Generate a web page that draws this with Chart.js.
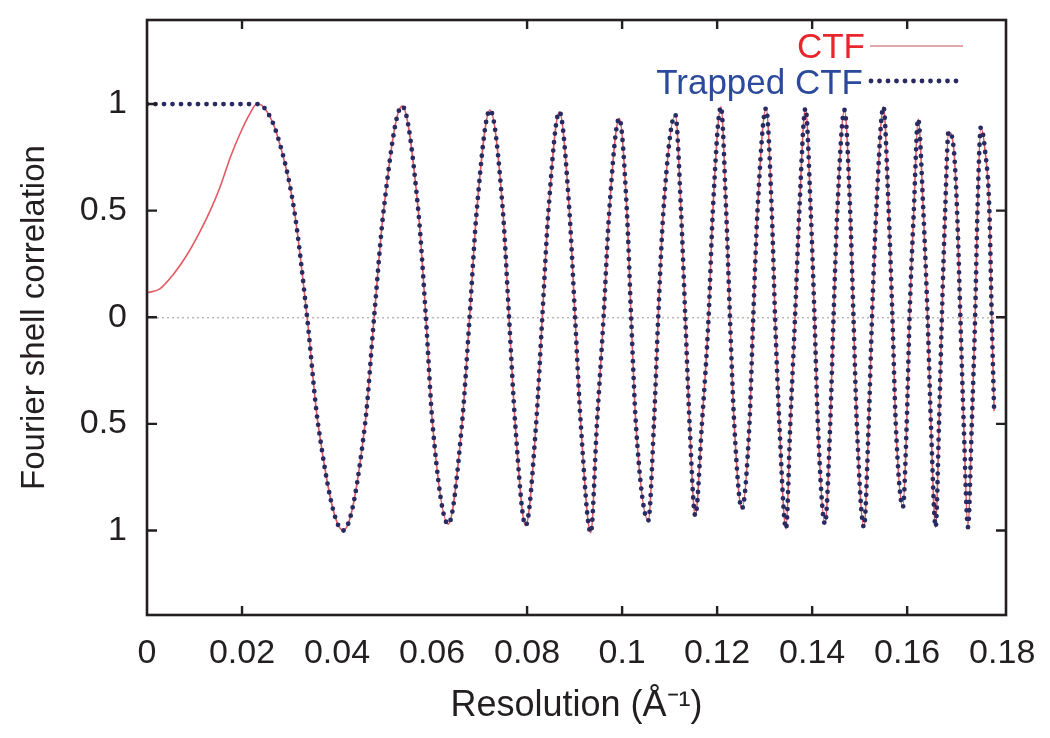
<!DOCTYPE html>
<html>
<head>
<meta charset="utf-8">
<script src="https://cdn.jsdelivr.net/npm/chart.js@4"></script>
<style>
  body { margin: 0; background: #fff; }
</style>
</head>
<body>
<canvas id="myChartctf" width="1050" height="738"></canvas>
<script>
// values
const resolution = [
  0.0000, 0.0027, 0.0055, 0.0084, 0.0112, 0.0133, 0.0154, 0.0175, 0.0196, 0.0217,
  0.0231, 0.0245, 0.0273, 0.0310, 0.0337, 0.0360, 0.0413, 0.0459, 0.0478, 0.0498,
  0.0537, 0.0571, 0.0587, 0.0601, 0.0634, 0.0663, 0.0679, 0.0694, 0.0722, 0.0749,
  0.0762, 0.0775, 0.0797, 0.0819, 0.0832, 0.0845, 0.0868, 0.0889, 0.0901, 0.0913,
  0.0934, 0.0947, 0.0961, 0.0973, 0.0994, 0.1010, 0.1019, 0.1029, 0.1055, 0.1067,
  0.1076, 0.1087, 0.1112, 0.1124, 0.1133, 0.1142, 0.1154, 0.1168, 0.1182, 0.1191,
  0.1208, 0.1219, 0.1227, 0.1236, 0.1252, 0.1268, 0.1276, 0.1285, 0.1303, 0.1315,
  0.1322, 0.1331, 0.1345, 0.1354, 0.1364, 0.1373, 0.1386, 0.1397, 0.1405, 0.1412,
  0.1427, 0.1438, 0.1445, 0.1453, 0.1468, 0.1480, 0.1487, 0.1494, 0.1509, 0.1519,
  0.1526, 0.1535, 0.1550, 0.1561, 0.1569, 0.1576, 0.1591, 0.1599, 0.1605, 0.1614,
  0.1623, 0.1634, 0.1643, 0.1650, 0.1660, 0.1667, 0.1673, 0.1680, 0.1687, 0.1698,
  0.1705, 0.1712, 0.1719, 0.1728, 0.1736, 0.1743, 0.1748, 0.1755, 0.1764, 0.1773,
  0.1778, 0.1783
];
const ctf = [
  0.115, 0.133, 0.200, 0.292, 0.404, 0.500, 0.612, 0.748, 0.862, 0.956,
  1.000, 0.987, 0.862, 0.500, 0.000, -0.500, -1.000, -0.500, 0.000, 0.500,
  0.990, 0.500, 0.000, -0.500, -0.970, -0.500, 0.000, 0.500, 0.972, 0.500,
  0.000, -0.500, -0.977, -0.500, 0.000, 0.500, 0.964, 0.500, 0.000, -0.500,
  -1.010, -0.500, 0.000, 0.500, 0.933, 0.500, 0.000, -0.500, -0.953, -0.500,
  0.000, 0.500, 0.950, 0.500, 0.000, -0.500, -0.930, -0.500, 0.000, 0.500,
  0.987, 0.500, 0.000, -0.500, -0.898, -0.500, 0.000, 0.500, 0.980, 0.500,
  0.000, -0.500, -0.992, -0.500, 0.000, 0.500, 0.980, 0.500, 0.000, -0.500,
  -0.969, -0.500, 0.000, 0.500, 0.972, 0.500, 0.000, -0.500, -0.984, -0.500,
  0.000, 0.500, 0.987, 0.500, 0.000, -0.500, -0.890, -0.500, 0.000, 0.500,
  0.930, 0.500, 0.000, -0.500, -0.984, -0.500, 0.000, 0.500, 0.870, 0.790,
  0.500, 0.000, -0.500, -0.984, -0.500, 0.000, 0.500, 0.890, 0.780, 0.500,
  0.000, -0.440
];
// trapped CTF is held at 1 until the CTF first reaches its peak
const trappedLevel = 1;
const trappedUntil = 0.0231;

const xTickLabels = [0, 0.02, 0.04, 0.06, 0.08, 0.1, 0.12, 0.14, 0.16, 0.18];
const yTickLabels = [1, 0.5, 0, -0.5, -1];
const xTickMarks = [0.02, 0.08, 0.1, 0.12, 0.14, 0.16];
const yTickMarksRight = [0.5, 0, -0.5, -1];

const ctfPoints = resolution.map((r, i) => ({x: r, y: ctf[i]}));
const trappedPoints = [{x: 0, y: trappedLevel}].concat(ctfPoints.filter(p => p.x >= trappedUntil));

const ink = '#231f20';
const font = 'Liberation Sans, Arial, sans-serif';
const dotColor = '#282a62';

// gnuplot style frame with inward ticks, plus the key in the top right
const framePlugin = {
  id: 'frame',
  afterDraw(chart) {
    const ctx = chart.ctx;
    const a = chart.chartArea;
    const xs = chart.scales.x, ys = chart.scales.y;
    ctx.save();
    ctx.strokeStyle = ink;
    ctx.lineWidth = 2.6;
    ctx.strokeRect(a.left, a.top, a.right - a.left, a.bottom - a.top);
    ctx.lineWidth = 2.4;
    ctx.beginPath();
    xTickMarks.forEach(v => {
      const px = xs.getPixelForValue(v);
      ctx.moveTo(px, a.bottom); ctx.lineTo(px, a.bottom - 9);
      ctx.moveTo(px, a.top); ctx.lineTo(px, a.top + 9);
    });
    yTickLabels.forEach(v => {
      const py = ys.getPixelForValue(v);
      ctx.moveTo(a.left, py); ctx.lineTo(a.left + 10, py);
    });
    yTickMarksRight.forEach(v => {
      const py = ys.getPixelForValue(v);
      ctx.moveTo(a.right, py); ctx.lineTo(a.right - 10, py);
    });
    ctx.stroke();

    // key
    ctx.font = '35px ' + font;
    ctx.textAlign = 'right';
    ctx.textBaseline = 'middle';
    ctx.fillStyle = '#e8262c';
    ctx.fillText('CTF', 865, 48);
    ctx.fillStyle = '#2c4a9c';
    ctx.fillText('Trapped CTF', 863, 84);
    ctx.strokeStyle = '#d98a8f';
    ctx.lineWidth = 1.6;
    ctx.beginPath(); ctx.moveTo(870, 46); ctx.lineTo(963, 46); ctx.stroke();
    ctx.strokeStyle = dotColor;
    ctx.lineWidth = 4.8;
    ctx.lineCap = 'round';
    ctx.setLineDash([0, 8.5]);
    ctx.beginPath(); ctx.moveTo(871, 81); ctx.lineTo(962, 81); ctx.stroke();
    ctx.restore();
  }
};

const ctxctf = document.getElementById('myChartctf');

const myChartctf = new Chart(ctxctf, {
  type: 'line',
  data: {
    datasets: [{
      label: 'CTF',
      data: ctfPoints,
      borderColor: '#e25a62',
      borderWidth: 1.6,
      pointRadius: 0,
      cubicInterpolationMode: 'monotone',
      order: 2
    }, {
      label: 'Trapped CTF',
      data: trappedPoints,
      borderColor: dotColor,
      borderWidth: 4.8,
      borderDash: [0, 8.5],
      borderCapStyle: 'round',
      pointRadius: 0,
      cubicInterpolationMode: 'monotone',
      order: 1
    }]
  },
  options: {
    responsive: false,
    animation: false,
    layout: { padding: { top: 20, right: 44, left: 0, bottom: 0 } },
    plugins: { legend: { display: false }, tooltip: { enabled: false } },
    scales: {
      x: {
        type: 'linear',
        min: 0,
        max: 0.1808,
        afterFit(scale) { scale.height = 123; scale.paddingLeft = 0; scale.paddingRight = 0; },
        afterBuildTicks(scale) { scale.ticks = xTickLabels.map(v => ({value: v})); },
        grid: { display: false },
        border: { display: false },
        ticks: {
          padding: 10,
          color: ink,
          font: { family: font, size: 34 },
          maxRotation: 0,
          autoSkip: false,
          callback: v => String(+v.toFixed(2))
        },
        title: {
          display: true,
          text: 'Resolution (Å⁻¹)',
          color: ink,
          font: { family: font, size: 36 },
          padding: { top: 0, bottom: 10 }
        }
      },
      y: {
        min: -1.396,
        max: 1.394,
        afterFit(scale) { scale.width = 147; scale.paddingTop = 0; scale.paddingBottom = 0; },
        afterBuildTicks(scale) { scale.ticks = yTickLabels.map(v => ({value: v})); },
        grid: {
          drawTicks: false,
          lineWidth: 1.5,
          color: c => c.tick && c.tick.value === 0 ? '#b9b9b9' : 'rgba(0,0,0,0)'
        },
        border: { display: false, dash: [2, 3] },
        ticks: {
          padding: 20,
          color: ink,
          font: { family: font, size: 34 },
          callback: v => String(Math.abs(v))
        },
        title: {
          display: true,
          text: 'Fourier shell correlation',
          color: ink,
          font: { family: font, size: 33 },
          padding: { top: 15, bottom: 0 }
        }
      }
    }
  },
  plugins: [framePlugin]
});
</script>
</body>
</html>
